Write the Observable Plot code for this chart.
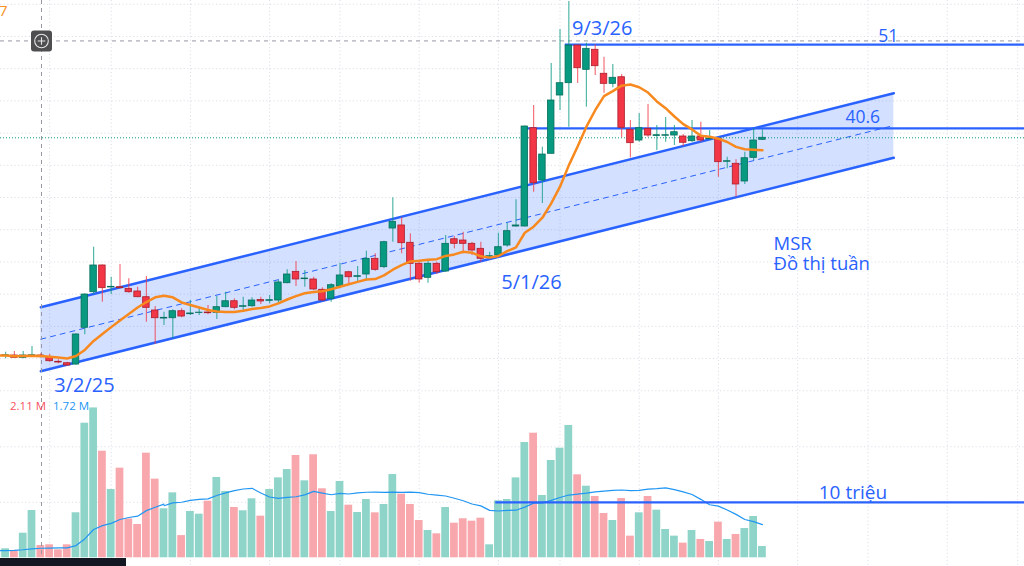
<!DOCTYPE html>
<html><head><meta charset="utf-8">
<script src="https://cdn.jsdelivr.net/npm/d3@7"></script>
<script src="https://cdn.jsdelivr.net/npm/@observablehq/plot@0.6"></script>
<style>
html,body{margin:0;padding:0;background:#fff;overflow:hidden;}
#wrap{position:relative;width:1024px;height:566px;overflow:hidden;background:#fff;}
#price{position:absolute;left:0;top:0;width:1024px;height:398px;overflow:hidden;}
#vol{position:absolute;left:0;top:398px;width:1024px;height:168px;overflow:hidden;}
#ui{position:absolute;left:0;top:0;}
</style></head>
<body>
<div id="wrap"><div id="price"></div><div id="vol"></div>
<svg id="ui" width="1024" height="566" font-family="Open Sans, sans-serif">
  <text x="-1" y="16" font-size="15" fill="#f7931e">7</text>
  <rect x="31" y="30.5" width="21" height="21" rx="3" fill="#4e4e50"/>
  <circle cx="41.5" cy="41" r="6.8" fill="none" stroke="#e6e6e6" stroke-width="1.1"/>
  <path d="M41.5 37.2 V44.8 M37.7 41 H45.3" stroke="#e6e6e6" stroke-width="1.1"/>
  <text x="10" y="410" font-size="11.5" fill="#f7525f">2.11 M</text>
  <text x="53" y="410" font-size="11.5" fill="#2196f3">1.72 M</text>
  <rect x="0" y="558" width="126" height="8" fill="#131722"/>
</svg>
</div>
<script>
// Weekly candles, MSR
const open  = [12.32,12.29,12.38,12.09,12.34,12.38,12.17,11.60,11.42,11.26,15.82,20.24,23.56,20.83,20.86,20.66,20.33,19.62,17.97,16.97,17.01,17.88,17.51,17.66,17.72,17.68,18.38,19.12,18.43,18.50,19.27,19.17,19.21,21.36,22.77,21.86,21.82,20.54,19.42,20.95,22.72,22.15,22.44,24.39,23.35,28.15,28.53,26.38,23.77,22.03,23.77,22.81,26.82,26.66,26.25,25.63,24.64,24.80,26.04,28.40,28.40,40.61,34.11,37.43,44.67,46.20,50.88,47.86,50.35,47.37,46.12,46.94,40.41,39.08,40.53,39.64,39.67,39.70,39.58,38.99,39.58,39.24,39.29,36.44,36.19,33.99,36.93,39.17];
const high  = [12.63,12.79,12.87,12.87,13.50,12.59,12.50,11.85,11.55,15.07,20.04,25.83,23.62,22.10,23.68,21.91,20.86,22.19,18.46,17.76,18.05,18.18,19.21,18.30,18.59,19.71,20.24,19.42,19.62,19.55,19.62,19.83,21.69,23.02,24.05,22.94,22.10,20.79,21.28,23.84,22.85,23.43,25.33,25.01,26.57,31.97,29.48,27.49,23.97,24.18,23.97,27.28,27.16,27.69,26.45,26.45,25.21,27.57,28.81,31.72,40.88,43.43,38.25,48.65,52.87,56.35,50.92,51.17,50.97,49.43,48.52,47.28,41.57,42.44,43.55,40.95,41.94,40.95,39.83,41.57,41.36,40.32,39.42,37.01,36.69,37.63,40.53,40.41];
const low   = [12.13,11.97,12.05,11.97,12.17,12.09,11.55,11.35,11.01,11.14,14.95,19.95,19.00,19.95,20.66,20.12,19.55,16.51,13.74,16.10,14.45,17.06,17.35,17.35,17.43,16.85,18.30,18.05,17.97,18.38,18.71,18.80,18.80,21.28,20.95,20.86,20.45,19.12,19.00,20.79,21.28,21.57,21.61,22.85,23.15,26.45,25.01,21.61,21.36,21.36,22.44,22.72,25.63,25.01,24.80,23.97,24.51,24.67,25.83,28.31,28.34,32.66,31.26,37.41,42.81,40.73,46.16,43.22,47.15,44.96,45.63,39.42,36.93,38.87,39.49,37.84,38.87,38.46,38.34,38.87,38.87,39.08,34.52,35.57,32.04,33.62,36.60,39.08];
const close = [12.38,12.41,12.09,12.38,12.41,12.17,11.67,11.51,11.14,14.99,19.95,23.56,20.74,20.91,20.74,20.24,19.62,18.30,17.01,17.06,17.88,17.22,17.60,17.70,17.63,18.38,19.12,18.30,18.50,19.21,19.09,19.25,21.45,22.44,21.82,21.94,20.58,19.21,21.11,22.32,22.10,22.23,24.39,23.02,26.45,28.98,26.33,23.77,21.82,23.77,22.72,26.25,26.25,26.25,25.42,24.39,24.71,25.83,27.82,28.53,40.82,33.78,37.34,44.05,46.20,50.88,48.06,50.47,48.31,46.12,46.87,40.66,38.75,40.61,39.70,39.74,39.74,40.11,38.80,39.58,39.08,39.33,36.39,36.51,33.62,36.88,39.08,39.42];
// volume in millions of shares
const volume = [1.5,1.62,1.32,4.43,8.52,2.22,2.34,1.44,2.34,8.11,24.25,27.0,19.2,12.3,16.15,7.0,6.0,18.85,14.17,8.83,11.7,4.0,8.34,7.86,10.2,14.47,11.95,9.06,8.47,10.63,7.5,12.3,14.4,15.9,18.43,13.87,18.56,12.43,8.34,13.75,9.48,8.16,10.5,8.1,9.6,15.0,11.46,9.6,6.72,4.92,4.32,9.06,6.23,7.03,6.6,7.14,2.34,10.27,10.5,14.4,20.77,22.45,11.22,17.53,19.75,23.84,14.95,12.9,11.05,7.98,6.72,10.68,3.9,8.1,11.05,8.58,5.1,3.9,2.64,4.92,3.3,2.94,6.42,3.3,4.2,5.28,7.44,2.04];
// volume MA values read for the first weeks (earlier history is off-screen)
const volMaHead = [1.3,1.3,1.35,1.45,1.6,1.72,1.75,1.78,1.8,2.2,3.4,5.1,5.8,6.2,6.9,7.26,7.5,8.5,9.1,9.66];

const gridWeeks = [7,14,23,32,40,49,58,65,74,83,92,100,109,117];
const priceGrid = [8,12,16,20,24,28,32,36,40,44,48,52,56];
const volGrid = [10,20];

// drawn annotations
const channelX = [6, 102.93];
const channelUpper = [18.38, 44.96];
const channelLower = [10.43, 36.93];
const levelValue = [51, 40.6];
const levelFrom = [65.6, 60.7];
const volLevelValue = 10, volLevelFrom = 57.7;
const crossX = 6.08, crossY = 51.45;

const labelText = ["51","40.6","9/3/26","5/1/26","3/2/25"];
const labelX = [102.3, 99.4, 69.8, 61.76, 10.97];
const labelY = [51.29, 41.23, 52.21, 20.7, 7.85];
const labelSize = [17.5, 17.5, 20, 20, 20];
const noteText = "MSR\nĐồ thị tuần";
const noteX = 89.26, noteY = 23.06;

const green = "#089981", red = "#f23645", blue = "#2962ff";
const xEnd = 117.78;
const X = {type: "linear", domain: [1.4205, xEnd], axis: null};
const FONT = "Open Sans, sans-serif";

const rows = open.map((o, k) => ({i: k + 1, o, h: high[k], l: low[k], c: close[k], v: volume[k], up: close[k] >= o}));
const chan = channelX.map((x, k) => ({x, u: channelUpper[k], l: channelLower[k], m: (channelUpper[k] + channelLower[k]) / 2}));
const levels = levelValue.map((v, k) => ({v, from: levelFrom[k]}));
const labels = labelText.map((t, k) => ({t, x: labelX[k], y: labelY[k], s: labelSize[k]}));
const head = volMaHead.map((v, k) => ({i: k + 1, v}));
const grid = {stroke: "#dcdfe6", strokeDasharray: "1.2,2.4", strokeWidth: 1};

const pricePlot = Plot.plot({
  width: 1024, height: 398, margin: 0,
  x: X, y: {domain: [7.04, 56.47], axis: null},
  color: {type: "identity"},
  style: {background: "transparent", fontFamily: FONT},
  marks: [
    Plot.ruleX(gridWeeks, grid),
    Plot.ruleY(priceGrid, grid),
    Plot.areaY(chan, {x: "x", y1: "l", y2: "u", fill: blue, fillOpacity: 0.2}),
    Plot.line(chan, {x: "x", y: "m", stroke: blue, strokeWidth: 1, strokeDasharray: "5,5"}),
    Plot.line(chan, {x: "x", y: "u", stroke: blue, strokeWidth: 2.5}),
    Plot.line(chan, {x: "x", y: "l", stroke: blue, strokeWidth: 2.5}),
    Plot.ruleY([close[close.length - 1]], {stroke: green, strokeDasharray: "1,2", strokeWidth: 1}),
    Plot.ruleY([crossY], {stroke: "#9598a1", strokeDasharray: "4,4", strokeWidth: 1}),
    Plot.ruleX([crossX], {stroke: "#9598a1", strokeDasharray: "4,4", strokeWidth: 1}),
    Plot.ruleY(levels, {y: "v", x1: "from", x2: xEnd, stroke: blue, strokeWidth: 2.2}),
    Plot.ruleX(rows, {x: "i", y1: "l", y2: "h", stroke: d => d.up ? green : red, strokeWidth: 1.2, strokeOpacity: 0.7}),
    Plot.rect(rows, {x1: d => d.i - 0.37, x2: d => d.i + 0.37, y1: "o", y2: "c",
      fill: d => d.up ? green : red, stroke: d => d.up ? "#066e5c" : "#a81f2d", strokeWidth: 0.8}),
    Plot.lineY(rows, Plot.windowY({k: 10, anchor: "end"}, {x: "i", y: "c", stroke: "#f7891f", strokeWidth: 2.5})),
    Plot.text(labels, {x: "x", y: "y", text: "t", fontSize: "s", textAnchor: "middle", lineAnchor: "bottom", fill: blue, fontFamily: FONT}),
    Plot.text([noteText], {x: noteX, y: noteY, text: d => d, fontSize: 18.5, lineHeight: 1.081, textAnchor: "start", lineAnchor: "bottom", fill: blue, fontFamily: FONT})
  ]
});
document.getElementById("price").appendChild(pricePlot);

const volPlot = Plot.plot({
  width: 1024, height: 168, margin: 0,
  x: X, y: {domain: [-1.568, 28.70], axis: null},
  color: {type: "identity"},
  style: {background: "transparent", fontFamily: FONT},
  marks: [
    Plot.ruleX(gridWeeks, grid),
    Plot.ruleY(volGrid, grid),
    Plot.rect(rows, {x1: d => d.i - 0.44, x2: d => d.i + 0.44, y1: 0, y2: "v",
      fill: d => d.up ? "#8fd4c8" : "#f8a7ad"}),
    Plot.ruleX([crossX], {stroke: "#9598a1", strokeDasharray: "4,4", strokeWidth: 1}),
    Plot.lineY(head, {x: "i", y: "v", stroke: "#2196f3", strokeWidth: 1.2}),
    Plot.lineY(rows, Plot.windowY({k: 20, anchor: "end", strict: true}, {x: "i", y: "v", stroke: "#2196f3", strokeWidth: 1.2})),
    Plot.ruleY([volLevelValue], {x1: volLevelFrom, x2: xEnd, stroke: blue, strokeWidth: 2.2}),
    Plot.text([{t: "10 triệu", x: 94.4, y: 10.63}], {x: "x", y: "y", text: "t", fontSize: 19, textAnchor: "start", lineAnchor: "bottom", fill: blue, fontFamily: FONT})
  ]
});
document.getElementById("vol").appendChild(volPlot);
</script>
</body></html>
